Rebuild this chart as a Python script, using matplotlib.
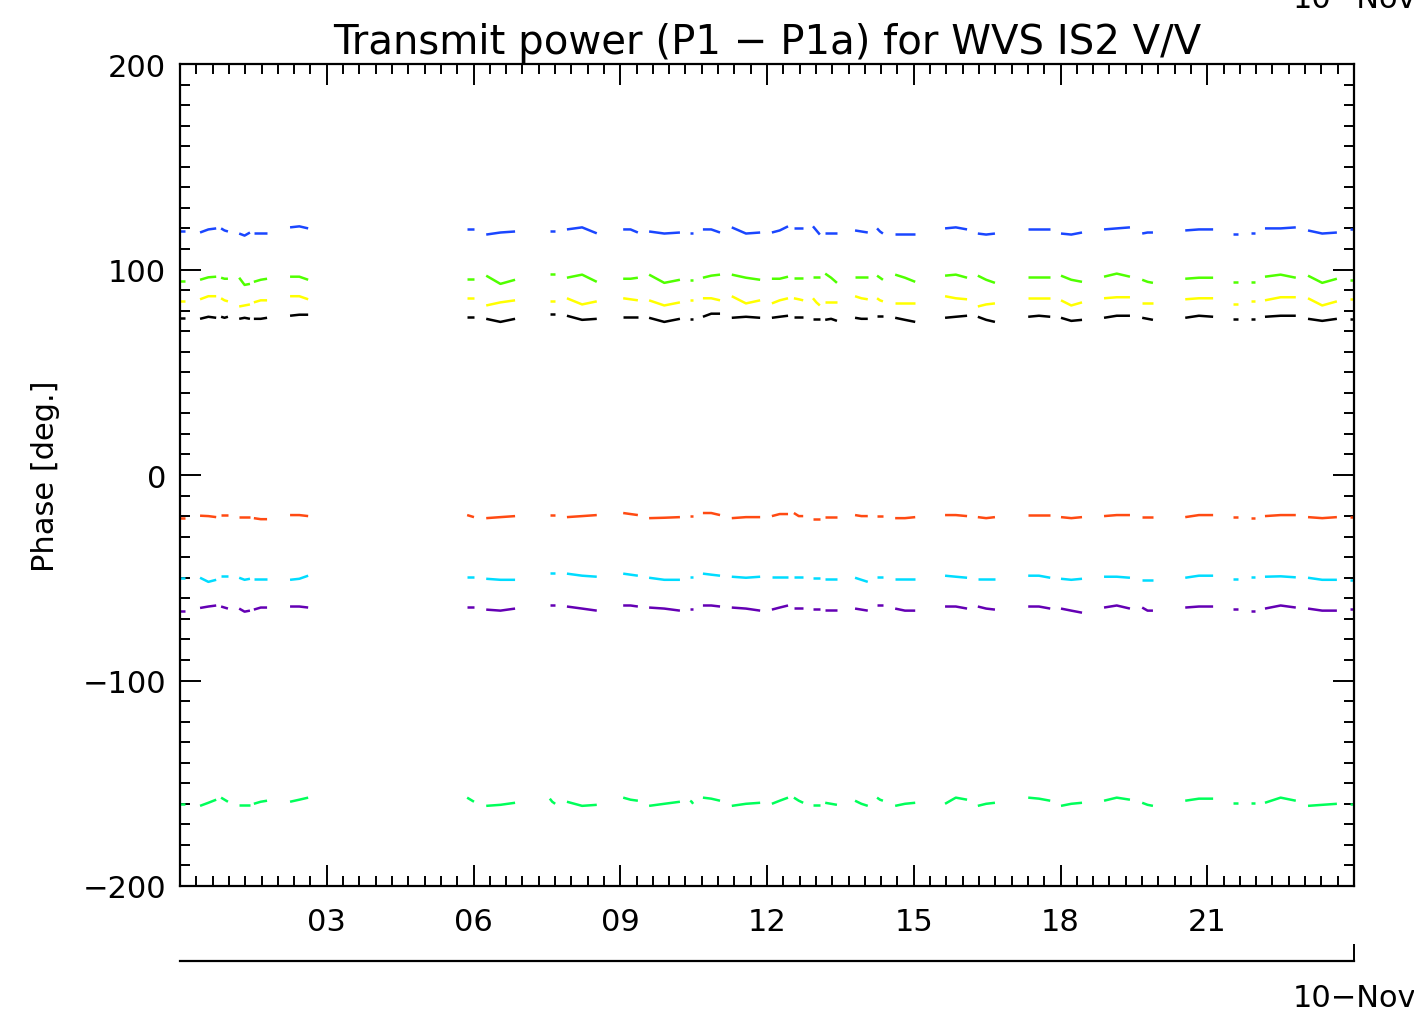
# Librerias
import matplotlib
matplotlib.use('Agg')
import matplotlib.pyplot as plt
from matplotlib.ticker import MultipleLocator, FixedLocator

# Datos: tramos de medida (horas del dia 10-Nov), tres puntos por tramo
seg_hours = [
    [0.00, 0.05, 0.10], [0.41, 0.58, 0.74], [0.84, 0.91, 0.98], [1.21, 1.32, 1.43],
    [1.51, 1.65, 1.78], [2.25, 2.44, 2.62], [5.87, 5.94, 6.01], [6.26, 6.55, 6.85],
    [7.56, 7.61, 7.67], [7.91, 8.22, 8.52], [9.06, 9.21, 9.36], [9.59, 9.90, 10.22],
    [10.43, 10.46, 10.49], [10.69, 10.86, 11.04], [11.28, 11.57, 11.86], [12.10, 12.26, 12.43],
    [12.55, 12.65, 12.74], [12.94, 13.01, 13.08], [13.19, 13.31, 13.43], [13.80, 13.93, 14.06],
    [14.25, 14.31, 14.37], [14.62, 14.82, 15.03], [15.64, 15.86, 16.09], [16.31, 16.48, 16.66],
    [17.34, 17.56, 17.79], [18.01, 18.22, 18.44], [18.89, 19.15, 19.42], [19.67, 19.78, 19.89],
    [20.55, 20.83, 21.12], [21.53, 21.58, 21.63], [21.89, 21.93, 21.98], [22.18, 22.50, 22.81],
    [23.06, 23.35, 23.65], [23.92, 23.96, 24.00],
]

phase_blue = [
    [118.5, 118.5, 118.5], [118, 119.5, 120], [120, 119, 118.5], [117.5, 116.5, 118],
    [118, 118, 118], [120.5, 121, 120], [119.5, 119.5, 119.5], [117, 118, 118.5],
    [118.7, 118.7, 118.7], [119.5, 120.5, 117.6], [119.5, 119.5, 118], [118.5, 117.5, 118],
    [117.8, 117.8, 117.8], [119.5, 119.5, 118], [120.5, 117.5, 118], [118, 119, 121],
    [120, 120, 120], [121, 119, 117], [118, 118, 118], [119, 118.5, 118],
    [120, 118.5, 117.5], [117.5, 117.5, 117.5], [120, 120.5, 119.5], [117.5, 117, 117.5],
    [119.5, 119.5, 119.5], [117.5, 117, 118], [119.5, 120, 120.5], [117.5, 118, 118],
    [119, 119.5, 119.5], [117.5, 117.5, 117.5], [118, 118, 118], [120, 120, 120.5],
    [119, 117.5, 118], [119.5, 119.5, 119.5],
]

phase_green = [
    [94.4, 94.4, 94.4], [95, 96.2, 96.5], [96, 95.5, 95.5], [96, 92.5, 93],
    [94, 95, 95.5], [96.5, 96.5, 95], [95.5, 95.5, 95.5], [97, 93, 95],
    [98, 98, 98], [96, 97.5, 94], [95.5, 95.5, 96], [97.5, 93.5, 95],
    [95, 95, 95], [96, 97, 97.5], [97.5, 96, 95], [95.5, 95.5, 96.5],
    [96, 96, 96], [96.5, 96.5, 96.5], [98, 96, 93.5], [96.5, 96.5, 96.5],
    [97, 96, 95], [97.5, 96, 94], [97, 97.5, 96], [97, 95, 93.5],
    [96.5, 96.5, 96.5], [97, 95, 94], [96.5, 98, 96.5], [95, 94, 93.5],
    [95.5, 96, 96], [94, 94, 94], [94, 94, 94], [96.5, 97.5, 96],
    [97, 93.5, 95.5], [95, 95, 95],
]

phase_yellow = [
    [84.7, 84.7, 84.7], [85.5, 87, 87], [86, 85, 84.5], [82, 82.5, 83],
    [84, 85, 85], [87, 87, 85.5], [86, 86, 86], [82.5, 84, 85],
    [84.7, 84.7, 84.7], [86, 83, 84.5], [86, 85.5, 85], [85, 82.5, 84],
    [85, 85, 85], [86, 86, 85], [87, 83.5, 85], [83.5, 85, 86],
    [86, 85.5, 85], [86, 84, 82.5], [84, 84, 84], [87, 86, 85.5],
    [86, 85, 84.5], [83.5, 83.5, 83.5], [87, 86, 85.5], [82, 83, 83.5],
    [86, 86, 86], [85, 82.5, 84], [86, 86.5, 86.5], [83.5, 83.5, 83.5],
    [85.5, 86, 86], [83, 83, 83], [84.5, 84.5, 84.5], [85, 86.5, 86.5],
    [86, 82.5, 84.5], [85.5, 85.5, 85.5],
]

phase_black = [
    [76.2, 76.2, 76.2], [76, 77, 76.5], [77, 76.5, 77], [76, 76.5, 76],
    [76, 76, 76.5], [77.5, 78, 78], [77, 77, 77], [76, 74.5, 76],
    [78.5, 78.5, 78.5], [77.5, 75.5, 76], [77, 77, 77], [76.5, 74.5, 76],
    [76, 76, 76], [77, 78.5, 78.5], [76.5, 77, 76.5], [76.5, 77, 77.5],
    [77, 77, 77], [76, 76, 76], [75.5, 76, 75], [76.5, 76, 76],
    [77.5, 77.5, 77.5], [76.5, 75.5, 74.5], [76.5, 77, 77.5], [77, 75.5, 74.5],
    [77, 77.5, 77], [76.5, 75, 75.5], [76.5, 77.5, 77.5], [76.5, 76, 75.5],
    [76.5, 77.5, 77], [76, 76, 76], [76, 76, 76], [77, 77.5, 77.5],
    [76, 75, 76], [76, 76, 76],
]

phase_red = [
    [-20.7, -20.7, -20.7], [-19.8, -20, -20.5], [-19.5, -19.5, -19.5], [-20.5, -20.5, -20.5],
    [-21, -21.5, -21.5], [-19.5, -19.5, -20], [-19.5, -20, -20.5], [-21, -20.5, -20],
    [-19.5, -19.5, -19.5], [-20.5, -20, -19.5], [-18.5, -19, -19.5], [-21, -20.8, -20.5],
    [-20, -20, -20], [-18.5, -18.5, -19.5], [-21, -20.5, -20.5], [-20, -19, -19],
    [-18.5, -20, -20], [-21.5, -21.5, -21.5], [-20.5, -20.5, -20.5], [-19.5, -20, -20],
    [-20, -20, -20], [-21, -21, -20.5], [-19.5, -19.5, -20], [-20.5, -21, -20.5],
    [-19.5, -19.5, -19.5], [-20.5, -21, -20.5], [-20, -19.5, -19.5], [-20.5, -20.5, -20.5],
    [-20.5, -19.5, -19.5], [-20.5, -20.5, -20.5], [-21, -21, -21], [-20, -19.5, -19.5],
    [-20.5, -21, -20.5], [-20.5, -20.5, -20.5],
]

phase_cyan = [
    [-49.9, -49.9, -49.9], [-50, -52, -51], [-49, -49, -49], [-50, -51, -50.5],
    [-50.5, -50.5, -50.5], [-51, -50.5, -49], [-49.5, -49.5, -49.5], [-50.5, -51, -51],
    [-47.5, -47.5, -47.5], [-48, -49, -49.5], [-48, -48.5, -49], [-50, -51, -51],
    [-49.5, -49.5, -49.5], [-48, -48.5, -49], [-49.5, -50, -49.5], [-49.5, -49.5, -49.5],
    [-49.5, -49.5, -49.5], [-50, -50, -50], [-50.5, -50.5, -50.5], [-50, -51, -52],
    [-49.5, -49.5, -49.5], [-50.5, -50.5, -50.5], [-49, -49.5, -50], [-50.5, -50.5, -50.5],
    [-49, -49, -50], [-50.5, -51, -50.5], [-49.5, -49.5, -50], [-51, -51, -51],
    [-50, -49, -49], [-50.5, -50.5, -50.5], [-49.5, -49.5, -49.5], [-49.5, -49.3, -49.8],
    [-50, -51, -51], [-51, -51, -51],
]

phase_purple = [
    [-66.1, -66.1, -66.1], [-64.7, -64, -63.5], [-64, -64.5, -65], [-65, -66.5, -66],
    [-65.5, -64.5, -64.5], [-64, -64, -64.5], [-64, -64, -64], [-65.5, -66, -65],
    [-63.5, -63.5, -63.5], [-64, -65, -66], [-63.5, -63.5, -64], [-64.5, -65, -66],
    [-65, -65, -65], [-63.5, -63.5, -64], [-64.5, -65, -66], [-65.5, -64.5, -63.5],
    [-64.5, -64.5, -64.5], [-65, -65, -65], [-65.5, -65.5, -65.5], [-65, -65.5, -66],
    [-63.5, -63.5, -63.5], [-65, -66, -66], [-64, -64, -65], [-64, -65, -65.5],
    [-64, -64, -65], [-65, -66, -67], [-64.5, -63.5, -65], [-64.5, -66, -66],
    [-64.5, -64, -64], [-65, -65, -65], [-66, -66, -66], [-65, -63.5, -64.5],
    [-65, -66, -66], [-65, -65, -65],
]

phase_spring = [
    [-160, -160, -160], [-161, -159.5, -158], [-157, -158, -159], [-160.5, -160.5, -160.5],
    [-160, -159, -158.5], [-159, -158, -157], [-157, -158, -159], [-161, -160.5, -159.5],
    [-157.5, -159, -160], [-159, -161, -160.5], [-157, -158, -158.5], [-161, -160, -159],
    [-158.5, -159, -160], [-157, -157.5, -158.5], [-161, -160, -159.5], [-160, -158.5, -157],
    [-157, -158.5, -159.5], [-160.5, -160.5, -160.5], [-159.5, -160, -160.5], [-158.5, -160, -161],
    [-157, -158, -158.5], [-161, -160, -159.5], [-160, -157, -158], [-161, -160, -159.5],
    [-157, -157.5, -158.5], [-161, -160, -159.5], [-158.5, -157, -158], [-159.5, -160.5, -161],
    [-158.5, -157.5, -157.5], [-159.5, -159.5, -159.5], [-159.5, -159.5, -159.5], [-159.5, -157, -158.5],
    [-161, -160.5, -160], [-160, -160, -160],
]

series = [phase_blue, phase_green, phase_yellow, phase_black,
          phase_red, phase_cyan, phase_purple, phase_spring]
colors = ['#1a46ff', '#50ff00', '#ffff00', '#000000',
          '#ff4a12', '#00dcff', '#6400b4', '#00ff5a']

major_hours = [3, 6, 9, 12, 15, 18, 21]
major_labels = ['03', '06', '09', '12', '15', '18', '21']
phase_ticks = [-200, -100, 0, 100, 200]
day_label = '10\u2212Nov'

# Figura
fig = plt.figure(figsize=(14.14, 10.12), dpi=100)
ax = fig.add_axes([180 / 1414, 125 / 1012, 1174 / 1414, 822 / 1012])

for values, color in zip(series, colors):
    for hours, vals in zip(seg_hours, values):
        ax.plot(hours, vals, color=color, lw=1.8, solid_capstyle='butt')

ax.set_xlim(0, 24)
ax.set_ylim(-200, 200)

ax.xaxis.set_major_locator(FixedLocator(major_hours))
ax.set_xticklabels(major_labels)
ax.xaxis.set_minor_locator(MultipleLocator(1 / 3))
ax.set_yticks(phase_ticks)
ax.yaxis.set_minor_locator(MultipleLocator(10))

ax.tick_params(which='both', direction='in', top=True, right=True,
               width=1.4, labelsize=22, colors='black')
ax.tick_params(which='major', length=15)
ax.tick_params(which='minor', length=7)
ax.tick_params(axis='x', pad=15)
ax.tick_params(axis='y', pad=10)
for sp in ax.spines.values():
    sp.set_linewidth(1.6)

ax.set_title('Transmit power (P1 \u2212 P1a) for WVS IS2 V/V', fontsize=29, pad=8)
ax.set_ylabel('Phase [deg.]', fontsize=22, labelpad=16)

# Eje secundario con la fecha
ax2 = fig.add_axes([180 / 1414, 50 / 1012, 1174 / 1414, 0.001])
ax2.set_xlim(0, 24)
ax2.set_yticks([])
for name in ['top', 'left', 'right']:
    ax2.spines[name].set_visible(False)
ax2.spines['bottom'].set_linewidth(1.6)
ax2.set_xticks([24])
ax2.set_xticklabels([day_label])
ax2.tick_params(direction='in', length=12, width=1.4, labelsize=22, pad=16)

fig.text(1354 / 1414, 1.0, day_label, ha='center', va='center', fontsize=22)

fig.savefig('out.png', dpi=100)
